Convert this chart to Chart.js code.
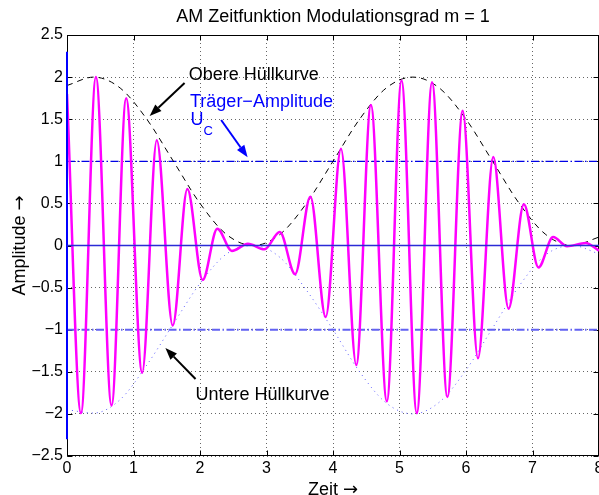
<!DOCTYPE html>
<html>
<head>
<meta charset="utf-8">
<script src="https://cdn.jsdelivr.net/npm/chart.js@4.4.0/dist/chart.umd.min.js"></script>
<style>
  html, body { margin: 0; padding: 0; background: #fff; }
  canvas { display: block; }
</style>
</head>
<body>
<canvas id="am-chart" width="599" height="495"></canvas>
<script>
// AM-Signal: Extremwerte des Trägers (Zeit / Amplitude)
const zeit = [0, 0.21, 0.435, 0.67, 0.89, 1.13, 1.35, 1.59, 1.81, 2.04, 2.26, 2.48, 2.72, 2.97,
  3.2, 3.43, 3.66, 3.89, 4.12, 4.35, 4.57, 4.81, 5.03, 5.26, 5.49, 5.72, 5.95, 6.18, 6.41,
  6.64, 6.87, 7.09, 7.31, 7.52, 7.8, 8.0];
const signal = [1.80, -1.99, 2.0, -1.90, 1.75, -1.51, 1.25, -0.95, 0.67, -0.41, 0.20, -0.065, 0.02, -0.045,
  0.16, -0.34, 0.58, -0.85, 1.15, -1.42, 1.67, -1.85, 1.96, -1.99, 1.94, -1.80, 1.60, -1.34, 1.05,
  -0.75, 0.49, -0.26, 0.10, -0.01, 0.03, -0.06];

// Hüllkurven
const huelleZeit = [0, 0.4, 0.8, 1.2, 1.6, 2.0, 2.4, 2.8, 3.2, 3.6, 4.0, 4.4, 4.8, 5.2, 5.6, 6.0, 6.4, 6.8, 7.2, 7.6, 8.0];
const obereHuelle = [1.9, 2.0, 1.87, 1.5, 1.0, 0.5, 0.13, 0.0, 0.13, 0.5, 1.0, 1.5, 1.87, 2.0, 1.87, 1.5, 1.0, 0.5, 0.13, 0.0, 0.1];
const untereHuelle = [-1.95, -1.99, -1.83, -1.42, -0.93, -0.45, -0.1, 0.0, -0.14, -0.53, -1.0, -1.5, -1.87, -2.0, -1.86, -1.48, -0.98, -0.48, -0.11, 0.0, -0.1];

// Träger-Amplitude U_C
const traegerPegel = [1, -1];

const xTickWerte = [0, 1, 2, 3, 4, 5, 6, 7, 8];
const yTickWerte = [-2.5, -2, -1.5, -1, -0.5, 0, 0.5, 1, 1.5, 2, 2.5];

const FONT = "'Liberation Sans', Arial, Helvetica, sans-serif";
const PFEIL_FONT = "'DejaVu Sans', sans-serif";
Chart.defaults.font.family = FONT;

const punkte = (xs, ys) => xs.map((x, i) => ({ x, y: ys[i] }));
const horizontale = (wert) => [{ x: 0, y: wert }, { x: 8, y: wert }];
const minus = (v) => String(Number(v.toFixed(1))).replace('-', '\u2212');

const zeichneArrow = (ctx, x1, y1, x2, y2, farbe) => {
    const ang = Math.atan2(y2 - y1, x2 - x1);
    const len = 12, half = 4.5;
    const bx = x2 - len * Math.cos(ang), by = y2 - len * Math.sin(ang);
    ctx.strokeStyle = farbe;
    ctx.fillStyle = farbe;
    ctx.lineWidth = 2;
    ctx.beginPath();
    ctx.moveTo(x1, y1);
    ctx.lineTo(bx, by);
    ctx.stroke();
    ctx.beginPath();
    ctx.moveTo(x2, y2);
    ctx.lineTo(bx + half * Math.sin(ang), by - half * Math.cos(ang));
    ctx.lineTo(bx - half * Math.sin(ang), by + half * Math.cos(ang));
    ctx.closePath();
    ctx.fill();
};

// Achsentitel mit Pfeil, zentriert um (0, 0)
const achsenTitel = (ctx, text) => {
    ctx.font = `18px ${FONT}`;
    const w1 = ctx.measureText(text + ' ').width;
    ctx.font = `18px ${PFEIL_FONT}`;
    const w2 = ctx.measureText('\u2192').width;
    const start = -(w1 + w2) / 2;
    ctx.textAlign = 'left';
    ctx.font = `18px ${FONT}`;
    ctx.fillText(text + ' ', start, 0);
    ctx.font = `18px ${PFEIL_FONT}`;
    ctx.fillText('\u2192', start + w1, 0);
};

// Rahmen mit nach innen zeigenden Ticks (unter den Kurven)
const rahmen = {
    id: 'rahmen',
    beforeDatasetsDraw(chart) {
        const { ctx, chartArea: a, scales: { x, y } } = chart;
        const l = Math.round(a.left) + 0.5, r = Math.round(a.right) - 0.5;
        const t = Math.round(a.top) + 0.5, b = Math.round(a.bottom) - 0.5;
        ctx.save();
        ctx.strokeStyle = '#000';
        ctx.lineWidth = 1;
        ctx.beginPath();
        xTickWerte.forEach(v => {
            const px = Math.round(x.getPixelForValue(v)) + 0.5;
            ctx.moveTo(px, b); ctx.lineTo(px, b - 5);
            ctx.moveTo(px, t); ctx.lineTo(px, t + 5);
        });
        yTickWerte.forEach(v => {
            const py = Math.round(y.getPixelForValue(v)) + 0.5;
            ctx.moveTo(l, py); ctx.lineTo(l + 5, py);
            ctx.moveTo(r, py); ctx.lineTo(r - 5, py);
        });
        ctx.stroke();
        ctx.strokeRect(l, t, r - l, b - t);
        ctx.restore();
    }
};

// Titel, Achsenbeschriftung und Hinweispfeile
const beschriftung = {
    id: 'beschriftung',
    afterDatasetsDraw(chart) {
        const { ctx, chartArea: a, scales: { x, y } } = chart;
        const px = v => x.getPixelForValue(v);
        const py = v => y.getPixelForValue(v);
        const mitte = (a.left + a.right) / 2;
        ctx.save();
        ctx.fillStyle = '#000';
        ctx.font = `18px ${FONT}`;
        ctx.textAlign = 'center';
        ctx.textBaseline = 'alphabetic';
        ctx.fillText('AM Zeitfunktion Modulationsgrad m = 1', mitte, 21.5);

        ctx.save();
        ctx.translate(mitte, 494.5);
        achsenTitel(ctx, 'Zeit');
        ctx.restore();

        ctx.save();
        ctx.translate(25, (a.top + a.bottom) / 2);
        ctx.rotate(-Math.PI / 2);
        achsenTitel(ctx, 'Amplitude');
        ctx.restore();

        ctx.font = `18px ${FONT}`;
        ctx.textAlign = 'left';
        ctx.fillText('Obere H\u00fcllkurve', px(1.83), py(1.966));
        ctx.fillText('Untere H\u00fcllkurve', px(1.933), py(-1.835));
        zeichneArrow(ctx, px(1.768), py(1.93), px(1.243), py(1.538), '#000');
        zeichneArrow(ctx, px(1.933), py(-1.586), px(1.479), py(-1.217), '#000');

        ctx.fillStyle = '#0000ff';
        ctx.fillText('Tr\u00e4ger\u2212Amplitude', px(1.85), py(1.648));
        const ux = px(1.858), uy = py(1.431);
        ctx.fillText('U', ux, uy);
        const uw = ctx.measureText('U').width;
        ctx.font = `13px ${FONT}`;
        ctx.fillText('C', ux + uw, uy + 10);
        zeichneArrow(ctx, px(2.318), py(1.49), px(2.716), py(1.048), '#0000ff');
        ctx.restore();
    }
};

new Chart(document.getElementById('am-chart'), {
    type: 'line',
    data: {
        datasets: [
            {
                data: horizontale(0),
                borderColor: '#2b2bd6',
                borderWidth: 1.5,
                order: 0
            },
            {
                data: [{ x: 0, y: -2.3 }, { x: 0, y: 2.3 }],
                borderColor: '#0000ff',
                borderWidth: 2,
                clip: false,
                order: 0
            },
            {
                data: punkte(zeit, signal),
                borderColor: '#ff00ff',
                borderWidth: 2.5,
                cubicInterpolationMode: 'monotone',
                order: 1
            },
            {
                data: punkte(huelleZeit, obereHuelle),
                borderColor: '#000',
                borderWidth: 1,
                borderDash: [6, 5],
                cubicInterpolationMode: 'monotone',
                order: 2
            },
            {
                data: punkte(huelleZeit, untereHuelle),
                borderColor: '#5a5aff',
                borderWidth: 1,
                borderDash: [1, 4],
                cubicInterpolationMode: 'monotone',
                order: 2
            },
            {
                data: horizontale(traegerPegel[0]),
                borderColor: '#0000e6',
                borderWidth: 1.3,
                borderDash: [8, 2.5, 1.5, 2.5],
                order: 3
            },
            {
                data: horizontale(traegerPegel[1]),
                borderColor: '#6262f2',
                borderWidth: 2,
                borderDash: [8, 2.5, 1.5, 2.5],
                order: 3
            }
        ]
    },
    options: {
        responsive: false,
        animation: false,
        events: [],
        layout: { padding: { top: 35, right: -2, left: 0, bottom: 0 } },
        elements: { point: { radius: 0 } },
        plugins: { legend: { display: false }, tooltip: { enabled: false } },
        scales: {
            x: {
                type: 'linear',
                min: 0,
                max: 8,
                afterBuildTicks: s => { s.ticks = xTickWerte.map(value => ({ value })); },
                afterFit: s => { s.height = 39; s.paddingLeft = 0; s.paddingRight = 0; },
                ticks: { color: '#000', padding: 3, font: { size: 16 }, maxRotation: 0, callback: minus },
                grid: { color: 'rgba(0,0,0,0.6)', lineWidth: 1, drawTicks: false },
                border: { display: false, dash: [1, 3] }
            },
            y: {
                min: -2.5,
                max: 2.5,
                afterBuildTicks: s => { s.ticks = yTickWerte.map(value => ({ value })); },
                afterFit: s => { s.width = 67; },
                ticks: { color: '#000', padding: 4, font: { size: 16 }, callback: minus },
                grid: { color: 'rgba(0,0,0,0.6)', lineWidth: 1, drawTicks: false },
                border: { display: false, dash: [1, 3] }
            }
        }
    },
    plugins: [rahmen, beschriftung]
});
</script>
</body>
</html>
